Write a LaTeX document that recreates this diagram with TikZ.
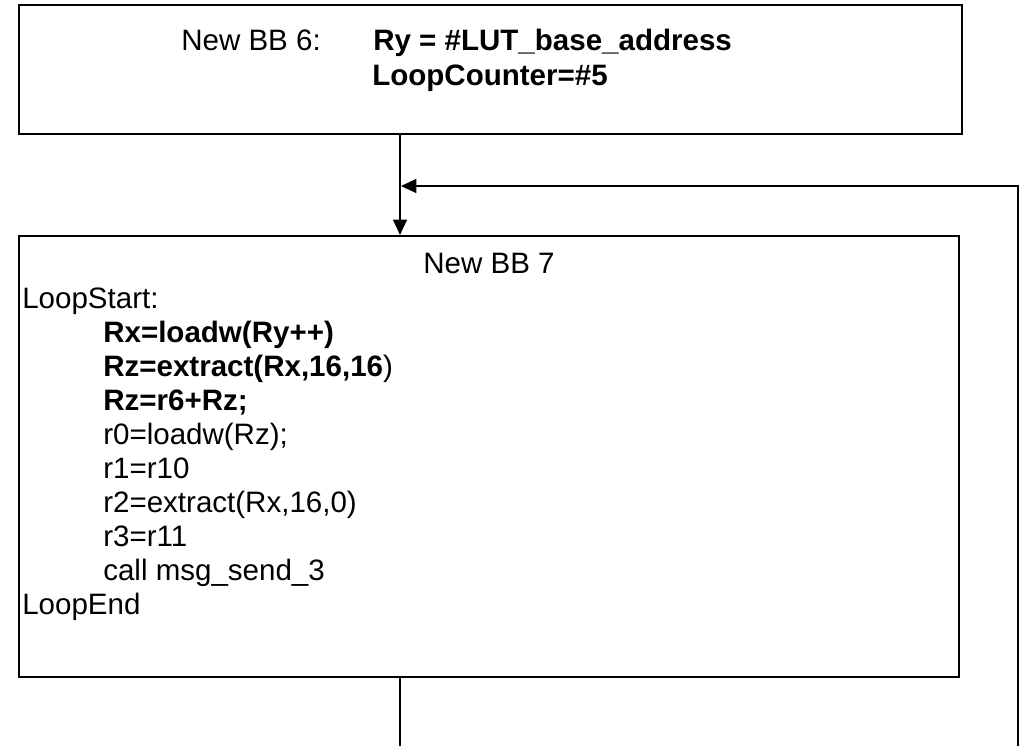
\documentclass[tikz,border=0pt]{standalone}
\usepackage{fontspec}
\setmainfont{Liberation Sans}
\usetikzlibrary{arrows.meta}

\begin{document}
\begin{tikzpicture}[x=0.025cm, y=-0.025cm,
  bloque/.style={rectangle, draw=black, line width=1.4pt, inner sep=0pt},
  texto/.style={anchor=base west, inner sep=0pt, font=\fontsize{21}{24}\selectfont},
  negrita/.style={texto, font=\fontsize{21}{24}\selectfont\bfseries},
  flujo/.style={line width=1pt, black},
  flecha/.style={flujo, -{Triangle[length=11pt, width=10pt]}}]
        \useasboundingbox (0,0) rectangle (1020,746);
        % bloque 6
        \node[bloque, minimum width=23.575cm, minimum height=3.225cm] (bb6) at (490.5,69.5) {};
        \node[texto] (t6a) at (181,50) {New BB 6:};
        \node[negrita] (t6b) at (373,50) {Ry = \#LUT\_base\_address};
        \node[negrita] (t6c) at (372,85) {LoopCounter=\#5};
        % bloque 7
        \node[bloque, minimum width=23.5cm, minimum height=11.025cm] (bb7) at (489,456.5) {};
        \node[texto, anchor=base] (t7) at (489,273) {New BB 7};
        \node[texto] (l0) at (22,308) {LoopStart:};
        \node[negrita] (l1) at (103,342) {Rx=loadw(Ry++)};
        \node[texto] (l2) at (103,376) {\textbf{Rz=extract(Rx,16,16})};
        \node[negrita] (l3) at (103,410) {Rz=r6+Rz;};
        \node[texto] (l4) at (103,444) {r0=loadw(Rz);};
        \node[texto] (l5) at (103,478) {r1=r10};
        \node[texto] (l6) at (103,512) {r2=extract(Rx,16,0)};
        \node[texto] (l7) at (103,546) {r3=r11};
        \node[texto] (l8) at (103,580) {call msg\_send\_3};
        \node[texto] (l9) at (22,614) {LoopEnd};
        % conexiones
        \coordinate (eje) at (400,0);
        \draw[flecha] (bb6.south -| eje) -- (bb7.north -| eje);
        \coordinate (retorno) at (1018,746);
        \coordinate (llegada) at (401,186);
        \draw[flecha] (retorno) |- (llegada);
        \coordinate (salida) at (400,746);
        \draw[flujo] (bb7.south -| eje) -- (salida);
    \end{tikzpicture}
\end{document}
